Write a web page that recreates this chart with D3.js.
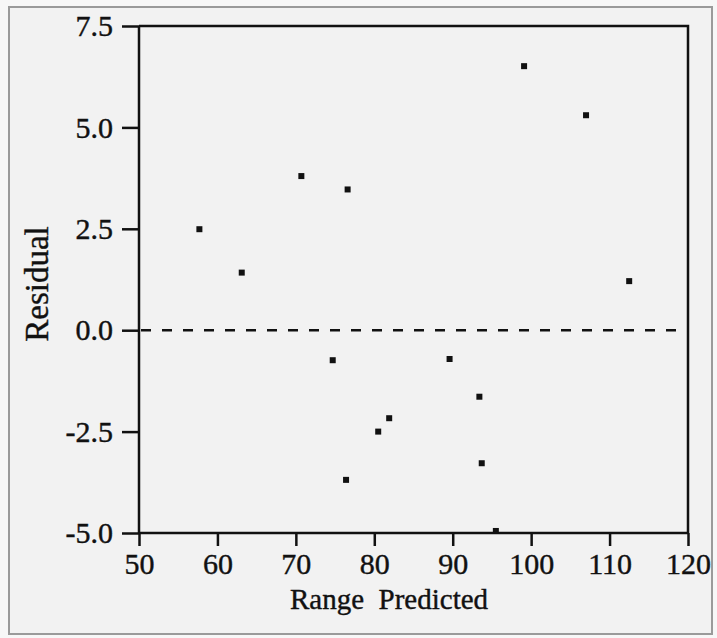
<!DOCTYPE html>
<html>
<head>
<meta charset="utf-8">
<script src="https://cdn.jsdelivr.net/npm/d3@7"></script>
<style>
  html, body { margin: 0; padding: 0; background: #ffffff; }
  svg { display: block; }
  text { font-family: "Liberation Serif", "Times New Roman", serif; fill: #111; }
</style>
</head>
<body>
<script>
// ---- data ----
const predicted = [57.7, 63.1, 70.7, 76.6, 74.7, 76.4, 80.5, 81.9, 89.6, 93.4, 93.7, 95.5, 99.1, 107.0, 112.5];
const residual  = [2.49, 1.42, 3.80, 3.47, -0.74, -3.69, -2.50, -2.17, -0.71, -1.64, -3.28, -4.95, 6.51, 5.30, 1.21];
const xTicks = [50, 60, 70, 80, 90, 100, 110, 120];
const yTicks = [-5.0, -2.5, 0.0, 2.5, 5.0, 7.5];
const xLabel = "Range  Predicted";
const yLabel = "Residual";

const W = 717, H = 638;
const mLeft = 139, mRight = 688, mTop = 26, mBottom = 533;
const FONT = '"Liberation Serif", "Times New Roman", serif';

const svg = d3.select("body").append("svg").attr("width", W).attr("height", H);

// paper background and frame
svg.append("rect").attr("x", 0).attr("y", 0).attr("width", W).attr("height", H).attr("fill", "#f7f7f7");
svg.append("rect").attr("x", 9).attr("y", 7).attr("width", 703).attr("height", 627)
  .attr("fill", "#f2f2f2").attr("stroke", "#9a9a9a").attr("stroke-width", 2);

const x = d3.scaleLinear().domain([50, 120]).range([mLeft, mRight]);
const y = d3.scaleLinear().domain([-5, 7.5]).range([mBottom, mTop]);

// box (top and right)
svg.append("path")
  .attr("d", `M${mLeft},${mTop}H${mRight}V${mBottom}`)
  .attr("fill", "none").attr("stroke", "#111").attr("stroke-width", 2.5);

// y axis
const yAxis = svg.append("g").attr("transform", `translate(${mLeft},0)`)
  .call(d3.axisLeft(y).tickValues(yTicks)
    .tickFormat(d => d3.format(".1f")(d).replace("\u2212", "-"))
    .tickSize(17).tickPadding(9));
// x axis
const xAxis = svg.append("g").attr("transform", `translate(0,${mBottom})`)
  .call(d3.axisBottom(x).tickValues(xTicks).tickFormat(d3.format("d")).tickSize(13).tickPadding(7));

[yAxis, xAxis].forEach(g => {
  g.attr("font-family", FONT).attr("font-size", 30);
  g.select(".domain").attr("stroke", "#111").attr("stroke-width", 2.5);
  g.selectAll(".tick line").attr("stroke", "#111").attr("stroke-width", 2.5);
  g.selectAll(".tick text").attr("font-size", 30).attr("fill", "#111").attr("font-family", FONT)
    .attr("stroke", "#111").attr("stroke-width", 0.4);
});
xAxis.select(".domain").attr("d", `M${mLeft},0H${mRight}`);
yAxis.select(".domain").attr("d", `M0,${mBottom}V${mTop}`);

// zero reference line
svg.append("line")
  .attr("x1", x(50) + 2).attr("x2", x(120)).attr("y1", y(0)).attr("y2", y(0))
  .attr("stroke", "#111").attr("stroke-width", 2.5).attr("stroke-dasharray", "10,11");

// points
const pts = predicted.map((p, i) => ({ p, r: residual[i] }));
svg.append("g").selectAll("rect").data(pts).enter().append("rect")
  .attr("x", d => x(d.p) - 3).attr("y", d => y(d.r) - 3)
  .attr("width", 6).attr("height", 6).attr("fill", "#111");

// axis titles
svg.append("text").attr("x", 290).attr("y", 609)
  .attr("text-anchor", "start").attr("font-size", 29).style("white-space", "pre")
  .attr("stroke", "#111").attr("stroke-width", 0.4)
  .text(xLabel);
svg.append("text").attr("transform", `translate(48,284) rotate(-90)`)
  .attr("text-anchor", "middle").attr("font-size", 33)
  .attr("stroke", "#111").attr("stroke-width", 0.4).text(yLabel);
</script>
</body>
</html>
